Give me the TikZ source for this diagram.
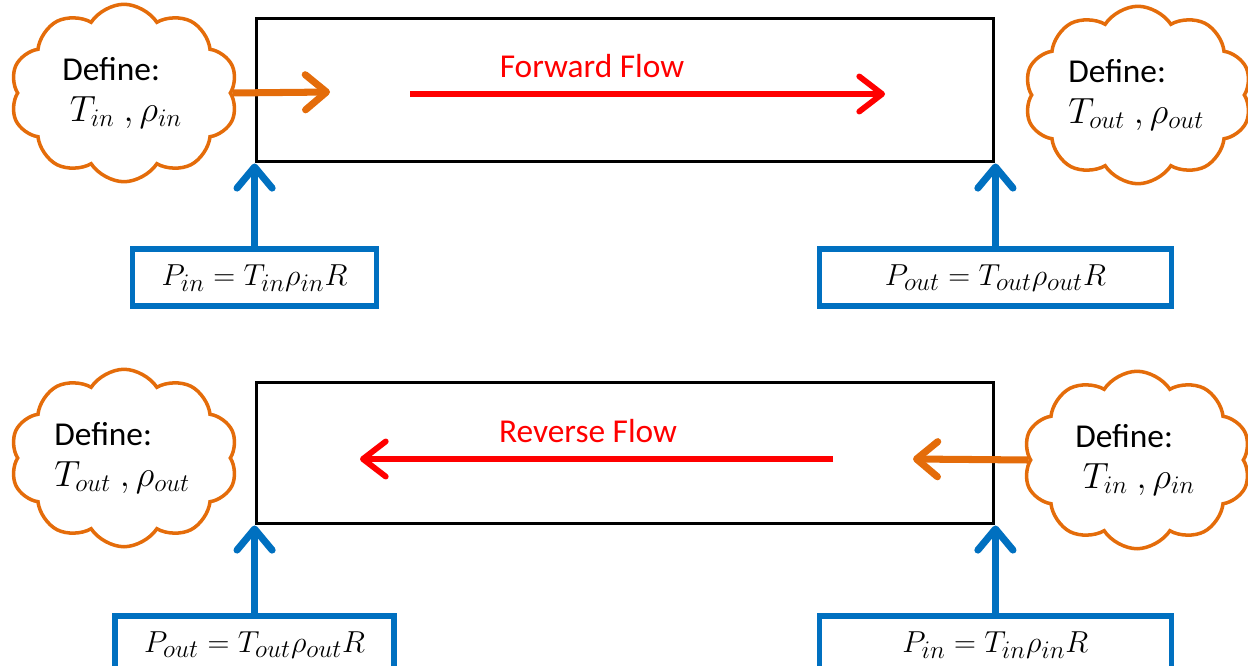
\documentclass[tikz,border=0pt]{standalone}
\usepackage{fontspec}
\setmainfont{Carlito}
\usetikzlibrary{arrows.meta,positioning,shapes.symbols}
\definecolor{flowOrange}{RGB}{228,108,10}
\definecolor{flowBlue}{RGB}{0,112,192}
\newcommand{\cloudvars}[1]{{\fontsize{22}{22}\selectfont$#1$}}
\tikzset{
  big/.style={font=\fontsize{19}{23}\selectfont},
  pipe/.style={draw,line width=1.7pt,minimum width=14.76cm},
  define/.style={cloud,cloud puffs=10,cloud puff arc=115,draw=flowOrange,
    line width=2pt,minimum width=4.55cm,minimum height=3.55cm,inner sep=0pt,
    label={[big,align=left,xshift=-1pt]center:#1}},
  state/.style={big,draw=flowBlue,line width=3.2pt,minimum height=1.14cm},
  feed/.style={flowOrange,line width=4pt,-{Straight Barb[length=12pt,width=20pt,round]}},
  flow/.style={red,line width=3.3pt,-{Straight Barb[length=13pt,width=20pt,round]}},
  link/.style={flowBlue,line width=4pt,-{Straight Barb[length=12pt,width=20pt,round]}},
}
\begin{document}
\begin{tikzpicture}[x=0.02cm,y=-0.02cm]
  \useasboundingbox (0,0) rectangle (1248,666);
  % forward flow
  \node[pipe,minimum height=2.88cm] (pipeA) at (625,90) {};
  \node[define={Define:\\ \ \cloudvars{T_{in}\ ,\rho_{in}}}] (inA) at (124,93) {};
  \node[define={Define:\\ \cloudvars{T_{out}\ ,\rho_{out}}}] (outA) at (1138,95) {};
  \coordinate (feedA) at (330,92);
  \coordinate (fwdS) at (410,94);
  \coordinate (fwdE) at (885,94);
  \node[big,red] (fwdT) at (592,66) {Forward Flow};
  \draw[feed] (inA.east) -- (feedA);
  \draw[flow] (fwdS) -- (fwdE);
  \node[state,minimum width=4.88cm,below=1.66cm of pipeA.south west] (pinA)
    {$P_{in} = T_{in}\rho_{in}R$};
  \node[state,minimum width=7.04cm,below=1.66cm of pipeA.south east] (poutA)
    {$P_{out} = T_{out}\rho_{out}R$};
  \draw[link] (pinA.north) -- (pipeA.south west);
  \draw[link] (poutA.north) -- (pipeA.south east);
  % reverse flow
  \node[pipe,minimum height=2.84cm] (pipeB) at (625,453) {};
  \node[define={Define:\\ \cloudvars{T_{out}\ ,\rho_{out}}}] (outB) at (124,458) {};
  \node[define={Define:\\ \ \cloudvars{T_{in}\ ,\rho_{in}}}] (inB) at (1137,460) {};
  \coordinate (feedB) at (913,459);
  \coordinate (revS) at (833,459);
  \coordinate (revE) at (360,459);
  \node[big,red] (revT) at (588,431) {Reverse Flow};
  \draw[feed] (inB.west) -- (feedB);
  \draw[flow] (revS) -- (revE);
  \node[state,minimum width=5.58cm,below=1.76cm of pipeB.south west] (poutB)
    {$P_{out} = T_{out}\rho_{out}R$};
  \node[state,minimum width=7.04cm,below=1.76cm of pipeB.south east] (pinB)
    {$P_{in} = T_{in}\rho_{in}R$};
  \draw[link] (poutB.north) -- (pipeB.south west);
  \draw[link] (pinB.north) -- (pipeB.south east);
\end{tikzpicture}
\end{document}
